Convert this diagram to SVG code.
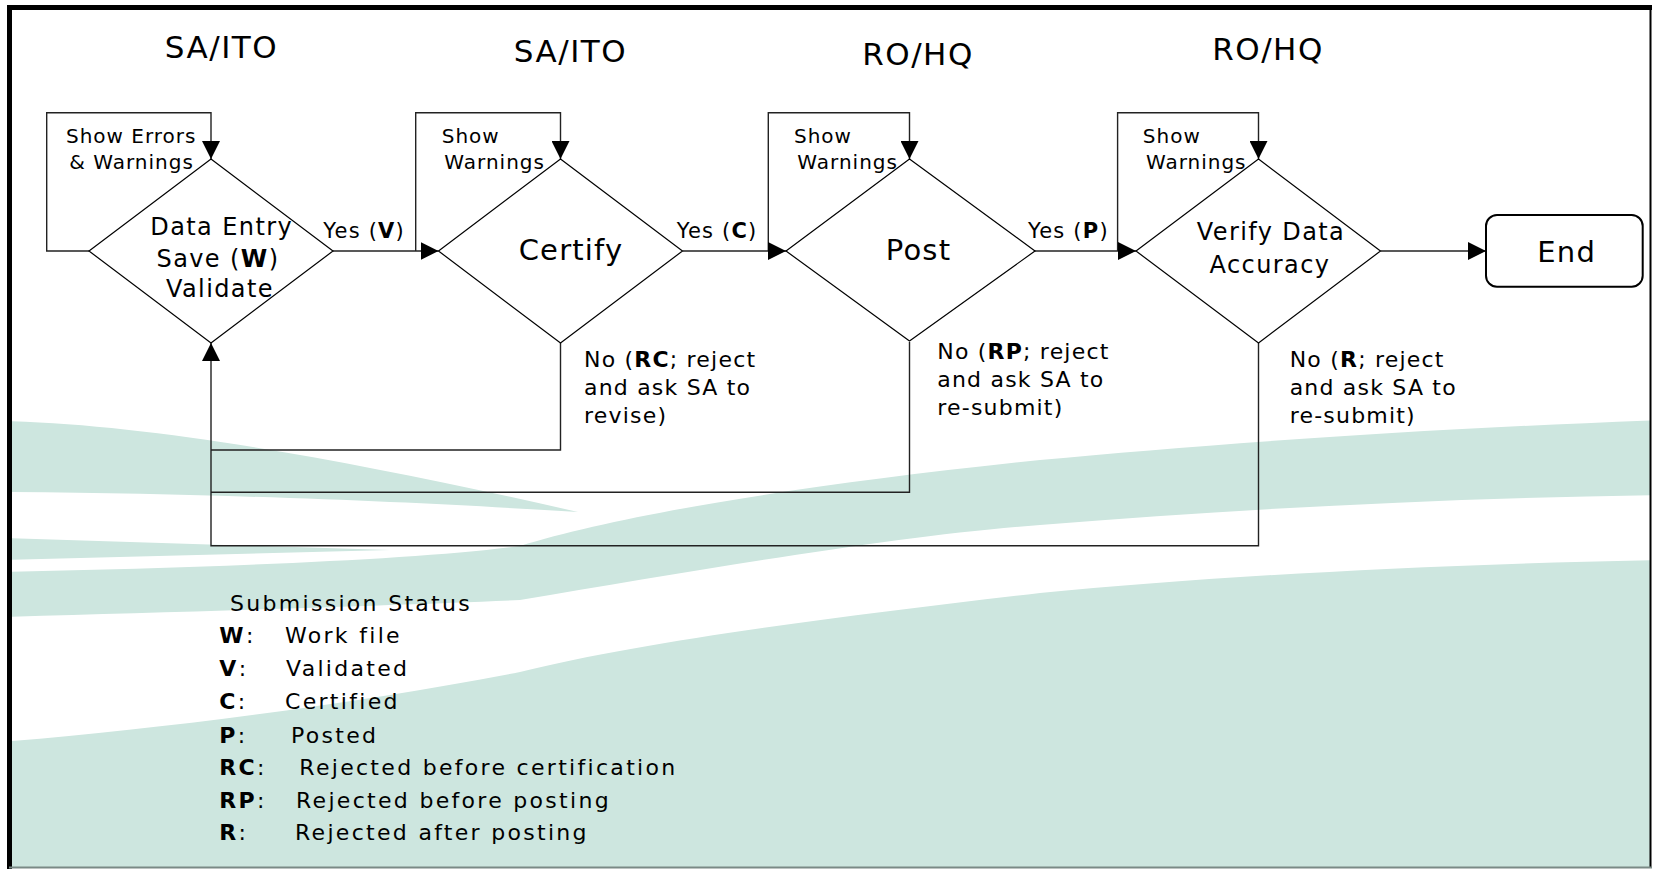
<svg xmlns="http://www.w3.org/2000/svg" width="1656" height="869" viewBox="0 0 1656 869">
<style>
text{font-family:"DejaVu Sans","Verdana",sans-serif;fill:#000}
.hdr{font-size:31px;letter-spacing:1.5px;text-anchor:middle}
.big{font-size:29px;letter-spacing:1.2px;text-anchor:middle}
.mid{font-size:24px;letter-spacing:1.4px;text-anchor:middle}
.sm{font-size:20px;letter-spacing:1px}
.yes{font-size:21px;letter-spacing:1.2px}
.no{font-size:22px;letter-spacing:1.2px}
.leg{font-size:22px;letter-spacing:2.3px}
.bg{fill:#cde6df;stroke:none}
.dia{fill:none;stroke:#000;stroke-width:1.2}
.ln{fill:none;stroke:#222;stroke-width:1.4}
</style>
<defs>
<marker id="ah" viewBox="0 0 18 18" refX="18" refY="9" markerWidth="18" markerHeight="18" markerUnits="userSpaceOnUse" orient="auto">
<path d="M0 0 L18 9 L0 18 Z" fill="#000"/>
</marker>
<clipPath id="frame"><rect x="12" y="10" width="1638" height="857"/></clipPath>
</defs>
<rect width="1656" height="869" fill="#fff"/>
<g id="background" clip-path="url(#frame)">
<path class="bg" d="M0 421 C150 424 350 460 578 512 C430 503 250 494 0 492 Z"/>
<path class="bg" d="M0 538 L390 550 L0 560 Z"/>
<path class="bg" d="M1660 420 C1400 430 1200 445 1040 460 C800 485 620 515 520 546 C420 560 200 568 0 572 L0 617 C180 612 380 606 520 600 C700 570 900 535 1040 525 C1250 508 1450 498 1660 495 Z"/>
<path class="bg" d="M1660 560 C1400 565 1200 578 1040 593 C850 615 650 640 520 672 C350 705 150 730 0 742 L0 869 L1660 869 Z"/>
</g>
<g id="frame-border">
<line x1="9.5" y1="5" x2="9.5" y2="869" stroke="#000" stroke-width="5"/>
<line x1="7" y1="7.5" x2="1652" y2="7.5" stroke="#000" stroke-width="5"/>
<line x1="1650.5" y1="7" x2="1650.5" y2="867" stroke="#000" stroke-width="2"/>
<line x1="9" y1="867.5" x2="1652" y2="867.5" stroke="#7a8a86" stroke-width="2"/>
</g>
<g id="headers">
<text class="hdr" x="221.5" y="58">SA/ITO</text>
<text class="hdr" x="570.5" y="61.5">SA/ITO</text>
<text class="hdr" x="918" y="65">RO/HQ</text>
<text class="hdr" x="1268" y="60">RO/HQ</text>
</g>
<g id="connectors">
<path class="ln" d="M89 251 H46.7 V112.7 H211 V159" marker-end="url(#ah)"/>
<path class="ln" d="M415.7 251 V112.7 H560.5 V159" marker-end="url(#ah)"/>
<path class="ln" d="M768.3 251 V112.7 H909.5 V159" marker-end="url(#ah)"/>
<path class="ln" d="M1117.6 251 V112.7 H1258.5 V159" marker-end="url(#ah)"/>
<path class="ln" d="M333 251 H438.5" marker-end="url(#ah)"/>
<path class="ln" d="M682.5 251 H786" marker-end="url(#ah)"/>
<path class="ln" d="M1035 251 H1136" marker-end="url(#ah)"/>
<path class="ln" d="M1380.5 251 H1486" stroke="#555" marker-end="url(#ah)"/>
<path class="ln" d="M560.5 343 V450 H211"/>
<path class="ln" d="M909.5 342 V492.3 H211"/>
<path class="ln" d="M1258.5 343 V545.7 H211 V343" marker-end="url(#ah)"/>
<text class="yes" x="323.3" y="238">Yes (<tspan font-weight="bold">V</tspan>)</text>
<text class="yes" x="676.7" y="238">Yes (<tspan font-weight="bold">C</tspan>)</text>
<text class="yes" x="1028" y="238">Yes (<tspan font-weight="bold">P</tspan>)</text>
<text class="sm" x="66" y="142.7">Show Errors</text>
<text class="sm" x="69.3" y="168.5">&amp; Warnings</text>
<text class="sm" x="441.7" y="142.7">Show</text>
<text class="sm" x="444.3" y="169.3">Warnings</text>
<text class="sm" x="794" y="142.7">Show</text>
<text class="sm" x="797.3" y="169.3">Warnings</text>
<text class="sm" x="1142.8" y="142.7">Show</text>
<text class="sm" x="1145.9" y="169.3">Warnings</text>
<text class="no" x="584" y="366.7">No (<tspan font-weight="bold">RC</tspan>; reject</text>
<text class="no" x="584" y="395">and ask SA to</text>
<text class="no" x="584" y="422.5">revise)</text>
<text class="no" x="937.3" y="359.3">No (<tspan font-weight="bold">RP</tspan>; reject</text>
<text class="no" x="937.3" y="387.3">and ask SA to</text>
<text class="no" x="937.3" y="415">re-submit)</text>
<text class="no" x="1289.7" y="367.3">No (<tspan font-weight="bold">R</tspan>; reject</text>
<text class="no" x="1289.7" y="395">and ask SA to</text>
<text class="no" x="1289.7" y="423.3">re-submit)</text>
</g>
<g id="node-data-entry">
<path class="dia" d="M211 159 L333 251 L211 343 L89 251 Z"/>
<text class="mid" x="221.7" y="235">Data Entry</text>
<text class="mid" x="218" y="266.7">Save (<tspan font-weight="bold">W</tspan>)</text>
<text class="mid" x="220" y="296.7">Validate</text>
</g>
<g id="node-certify">
<path class="dia" d="M560.5 159 L682.5 251 L560.5 343 L438.5 251 Z"/>
<text class="big" x="571" y="260">Certify</text>
</g>
<g id="node-post">
<path class="dia" d="M909.5 159 L1035 251 L909.5 341 L786 251 Z" stroke-width="2.2"/>
<text class="big" x="918.5" y="260">Post</text>
</g>
<g id="node-verify">
<path class="dia" d="M1258.5 159 L1380.5 251 L1258.5 343 L1136 251 Z"/>
<text class="mid" x="1271" y="240">Verify Data</text>
<text class="mid" x="1270" y="272.7">Accuracy</text>
</g>
<g id="node-end">
<rect x="1486" y="215" width="156.7" height="71.7" rx="11" fill="#fff" stroke="#000" stroke-width="2"/>
<text class="big" x="1566.7" y="261.7">End</text>
</g>
<g id="legend">
<text class="leg" x="230" y="611">Submission Status</text>
<text class="leg" x="219.3" y="643.3"><tspan font-weight="bold">W</tspan>:</text><text class="leg" x="285" y="643.3">Work file</text>
<text class="leg" x="219.3" y="676"><tspan font-weight="bold">V</tspan>:</text><text class="leg" x="286" y="676">Validated</text>
<text class="leg" x="219.3" y="709.3"><tspan font-weight="bold">C</tspan>:</text><text class="leg" x="285" y="709.3">Certified</text>
<text class="leg" x="219.3" y="742.7"><tspan font-weight="bold">P</tspan>:</text><text class="leg" x="291" y="742.7">Posted</text>
<text class="leg" x="219.3" y="775"><tspan font-weight="bold">RC</tspan>:</text><text class="leg" x="299.3" y="775">Rejected before certification</text>
<text class="leg" x="219.3" y="807.7"><tspan font-weight="bold">RP</tspan>:</text><text class="leg" x="296" y="807.7">Rejected before posting</text>
<text class="leg" x="219.3" y="840"><tspan font-weight="bold">R</tspan>:</text><text class="leg" x="295" y="840">Rejected after posting</text>
</g>
</svg>
